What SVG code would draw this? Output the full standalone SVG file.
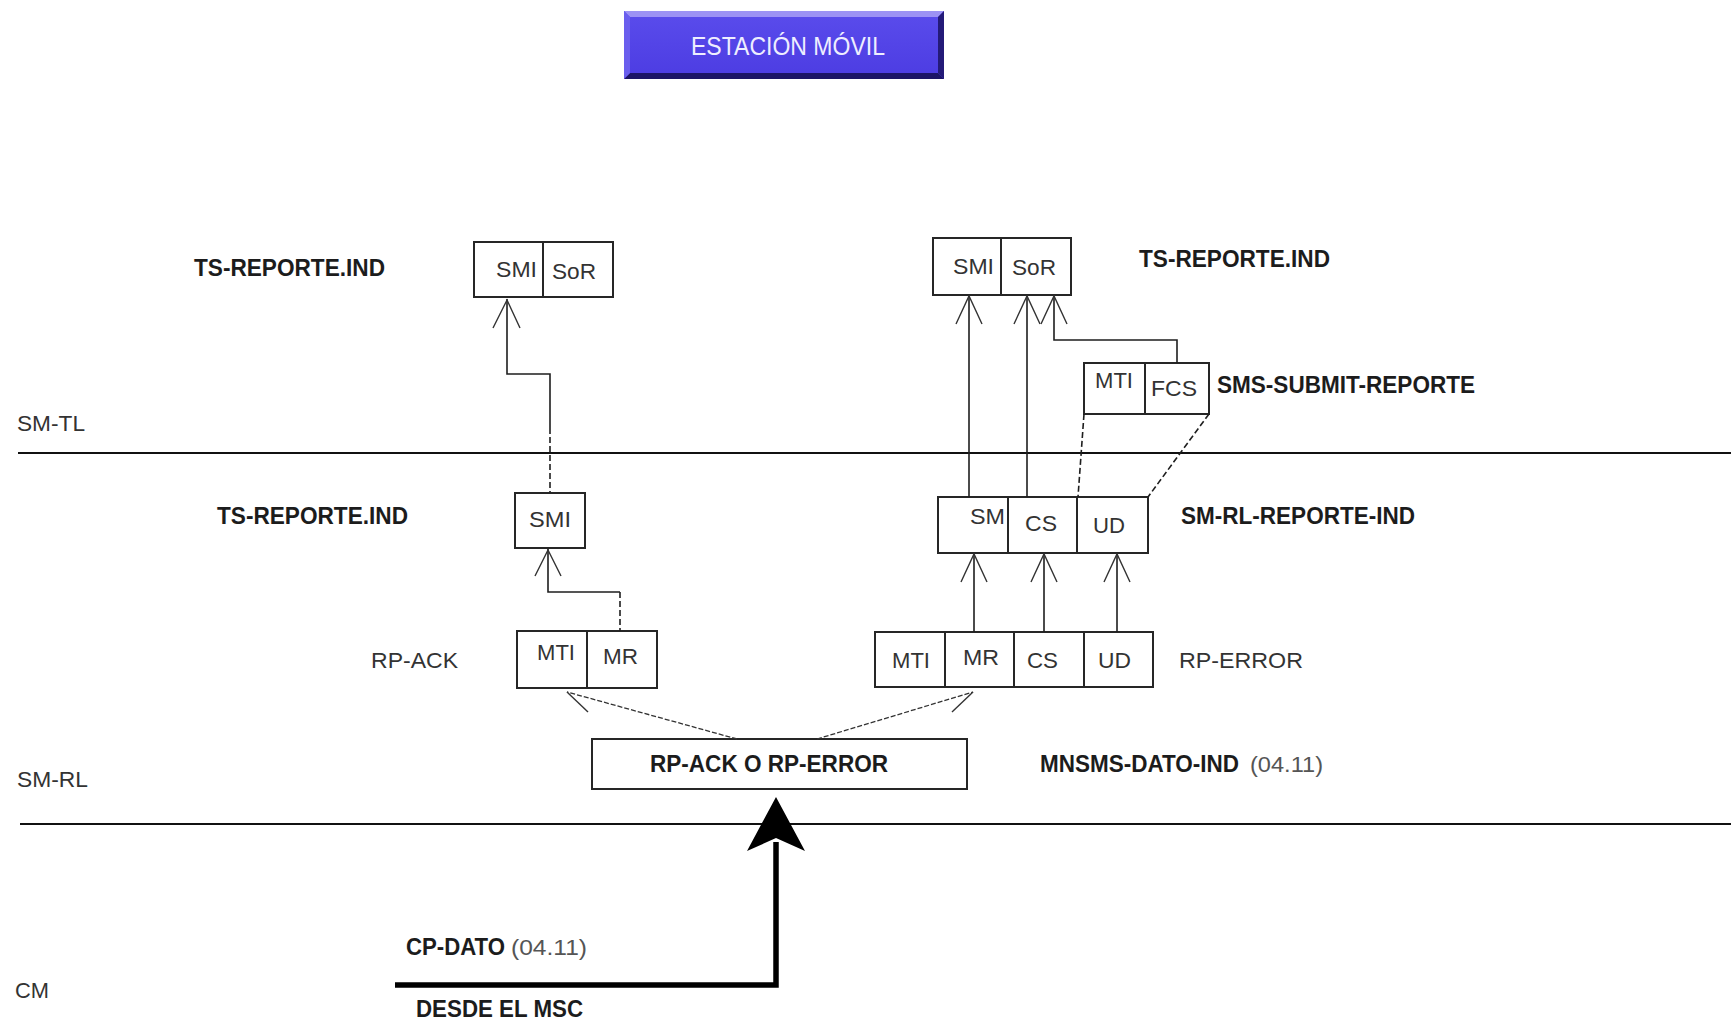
<svg xmlns="http://www.w3.org/2000/svg" width="1731" height="1022" viewBox="0 0 1731 1022">
<defs>
<style>
text{font-family:"Liberation Sans",Arial,sans-serif;fill:#2b2b2b}
.lbl{font-size:23px}
.b{font-weight:bold;fill:#1c1c1c}
.f{font-size:22px;fill:#333}
.g{fill:#555}
.box{fill:#fff;stroke:#262626;stroke-width:2}
.div{stroke:#262626;stroke-width:2}
.ln{fill:none;stroke:#1e1e1e;stroke-width:1.6}
.ah{fill:none;stroke:#333;stroke-width:1.4}
.dash{fill:none;stroke:#1e1e1e;stroke-width:1.6;stroke-dasharray:6 3}
.thin{fill:none;stroke:#333;stroke-width:1.3;stroke-dasharray:5 2}
.layer{stroke:#111;stroke-width:1.8}
</style>
<linearGradient id="btn" x1="0" y1="0" x2="0" y2="1">
<stop offset="0" stop-color="#5a4cec"/>
<stop offset="1" stop-color="#4c3ce2"/>
</linearGradient>
</defs>

<g id="title">
<rect x="624" y="11" width="320" height="68" fill="url(#btn)"/>
<polygon points="624,11 944,11 938,17 630,17" fill="#9c92f4"/>
<polygon points="624,79 944,79 938,73 630,73" fill="#1c1466"/>
<polygon points="944,11 944,79 938,73 938,17" fill="#241a78"/>
<polygon points="624,11 624,79 630,73 630,17" fill="#6a5eee"/>
<text x="788" y="55" text-anchor="middle" font-size="25" style="fill:#eeeeff" textLength="194" lengthAdjust="spacingAndGlyphs">ESTACIÓN MÓVIL</text>
</g>

<g id="layers">
<line class="layer" x1="18" y1="453" x2="1731" y2="453"/>
<line class="layer" x1="20" y1="824" x2="1731" y2="824"/>
<text class="f" x="17" y="431" textLength="68" lengthAdjust="spacingAndGlyphs">SM-TL</text>
<text class="f" x="17" y="787" textLength="71" lengthAdjust="spacingAndGlyphs">SM-RL</text>
<text class="f" x="15" y="998" textLength="34" lengthAdjust="spacingAndGlyphs">CM</text>
</g>

<g id="ts-reporte-tl">
<text class="lbl b" x="194" y="276" textLength="191" lengthAdjust="spacingAndGlyphs">TS-REPORTE.IND</text>
<rect class="box" x="474" y="242" width="139" height="55"/>
<line class="div" x1="543" y1="242" x2="543" y2="297"/>
<text class="f" x="496" y="277" textLength="41" lengthAdjust="spacingAndGlyphs">SMI</text>
<text class="f" x="552" y="279" textLength="44" lengthAdjust="spacingAndGlyphs">SoR</text>
</g>

<g id="ts-reporte-tr">
<text class="lbl b" x="1139" y="267" textLength="191" lengthAdjust="spacingAndGlyphs">TS-REPORTE.IND</text>
<rect class="box" x="933" y="238" width="138" height="57"/>
<line class="div" x1="1001" y1="238" x2="1001" y2="295"/>
<text class="f" x="953" y="274" textLength="41" lengthAdjust="spacingAndGlyphs">SMI</text>
<text class="f" x="1012" y="275" textLength="44" lengthAdjust="spacingAndGlyphs">SoR</text>
</g>

<g id="sms-submit-reporte">
<rect class="box" x="1084" y="363" width="125" height="51"/>
<line class="div" x1="1145" y1="363" x2="1145" y2="414"/>
<text class="f" x="1095" y="388" textLength="38" lengthAdjust="spacingAndGlyphs">MTI</text>
<text class="f" x="1151" y="396" textLength="46" lengthAdjust="spacingAndGlyphs">FCS</text>
<text class="lbl b" x="1217" y="393" textLength="258" lengthAdjust="spacingAndGlyphs">SMS-SUBMIT-REPORTE</text>
</g>

<g id="ts-reporte-mid">
<text class="lbl b" x="217" y="524" textLength="191" lengthAdjust="spacingAndGlyphs">TS-REPORTE.IND</text>
<rect class="box" x="515" y="493" width="70" height="55"/>
<text class="f" x="529" y="527" textLength="42" lengthAdjust="spacingAndGlyphs">SMI</text>
</g>

<g id="sm-rl-reporte">
<rect class="box" x="938" y="497" width="210" height="56"/>
<line class="div" x1="1008" y1="497" x2="1008" y2="553"/>
<line class="div" x1="1077" y1="497" x2="1077" y2="553"/>
<text class="f" x="970" y="524" textLength="35" lengthAdjust="spacingAndGlyphs">SM</text>
<text class="f" x="1025" y="531" textLength="32" lengthAdjust="spacingAndGlyphs">CS</text>
<text class="f" x="1093" y="533" textLength="32" lengthAdjust="spacingAndGlyphs">UD</text>
<text class="lbl b" x="1181" y="524" textLength="234" lengthAdjust="spacingAndGlyphs">SM-RL-REPORTE-IND</text>
</g>

<g id="rp-ack">
<text class="f" x="371" y="668" textLength="87" lengthAdjust="spacingAndGlyphs">RP-ACK</text>
<rect class="box" x="517" y="631" width="140" height="57"/>
<line class="div" x1="587" y1="631" x2="587" y2="688"/>
<text class="f" x="537" y="660" textLength="38" lengthAdjust="spacingAndGlyphs">MTI</text>
<text class="f" x="603" y="664" textLength="35" lengthAdjust="spacingAndGlyphs">MR</text>
</g>

<g id="rp-error">
<rect class="box" x="875" y="632" width="278" height="55"/>
<line class="div" x1="945" y1="632" x2="945" y2="687"/>
<line class="div" x1="1014" y1="632" x2="1014" y2="687"/>
<line class="div" x1="1084" y1="632" x2="1084" y2="687"/>
<text class="f" x="892" y="668" textLength="38" lengthAdjust="spacingAndGlyphs">MTI</text>
<text class="f" x="963" y="665" textLength="36" lengthAdjust="spacingAndGlyphs">MR</text>
<text class="f" x="1027" y="668" textLength="31" lengthAdjust="spacingAndGlyphs">CS</text>
<text class="f" x="1098" y="668" textLength="33" lengthAdjust="spacingAndGlyphs">UD</text>
<text class="f" x="1179" y="668" textLength="124" lengthAdjust="spacingAndGlyphs">RP-ERROR</text>
</g>

<g id="rp-ack-o-rp-error">
<rect class="box" x="592" y="739" width="375" height="50"/>
<text class="lbl b" x="650" y="772" textLength="238" lengthAdjust="spacingAndGlyphs">RP-ACK O RP-ERROR</text>
<text class="lbl b" x="1040" y="772" textLength="199" lengthAdjust="spacingAndGlyphs">MNSMS-DATO-IND</text>
<text class="f g" x="1250" y="772" textLength="73" lengthAdjust="spacingAndGlyphs">(04.11)</text>
</g>

<g id="cp-dato">
<text class="lbl b" x="406" y="955" textLength="99" lengthAdjust="spacingAndGlyphs">CP-DATO</text>
<text class="f g" x="511" y="955" textLength="76" lengthAdjust="spacingAndGlyphs">(04.11)</text>
<text class="lbl b" x="416" y="1017" textLength="167" lengthAdjust="spacingAndGlyphs">DESDE EL MSC</text>
</g>

<g id="connectors">
<path class="ln" d="M507,299 V374 H550 V428"/>
<path class="dash" d="M550,428 V492"/>
<path class="ah" d="M493,328 L507,300 L520,328"/>

<path class="ln" d="M548,549 V592 H620"/>
<path class="dash" d="M620,592 V631"/>
<path class="ah" d="M535,576 L548,550 L561,576"/>

<path class="ln" d="M969,497 V296"/>
<path class="ah" d="M956,324 L969,296 L982,324"/>
<path class="ln" d="M1027,497 V296"/>
<path class="ah" d="M1014,324 L1027,296 L1040,324"/>
<path class="ln" d="M1177,363 V340 H1054 V296"/>
<path class="ah" d="M1041,324 L1054,296 L1067,324"/>
<path class="dash" d="M1084,414 L1078,497"/>
<path class="dash" d="M1209,414 L1148,497"/>

<path class="ln" d="M974,632 V554"/>
<path class="ah" d="M961,582 L974,554 L987,582"/>
<path class="ln" d="M1044,632 V554"/>
<path class="ah" d="M1031,582 L1044,554 L1057,582"/>
<path class="ln" d="M1117,632 V554"/>
<path class="ah" d="M1104,582 L1117,554 L1130,582"/>

<path class="thin" d="M737,739 L567,692"/>
<path class="ah" d="M567,692 L588,712"/>
<path class="thin" d="M817,739 L973,692"/>
<path class="ah" d="M973,692 L952,712"/>

<path d="M395,985 H776 V842" fill="none" stroke="#000" stroke-width="5.5" stroke-linejoin="miter"/>
<polygon points="776,797 805,851 776,838 747,851" fill="#000"/>
</g>
</svg>
